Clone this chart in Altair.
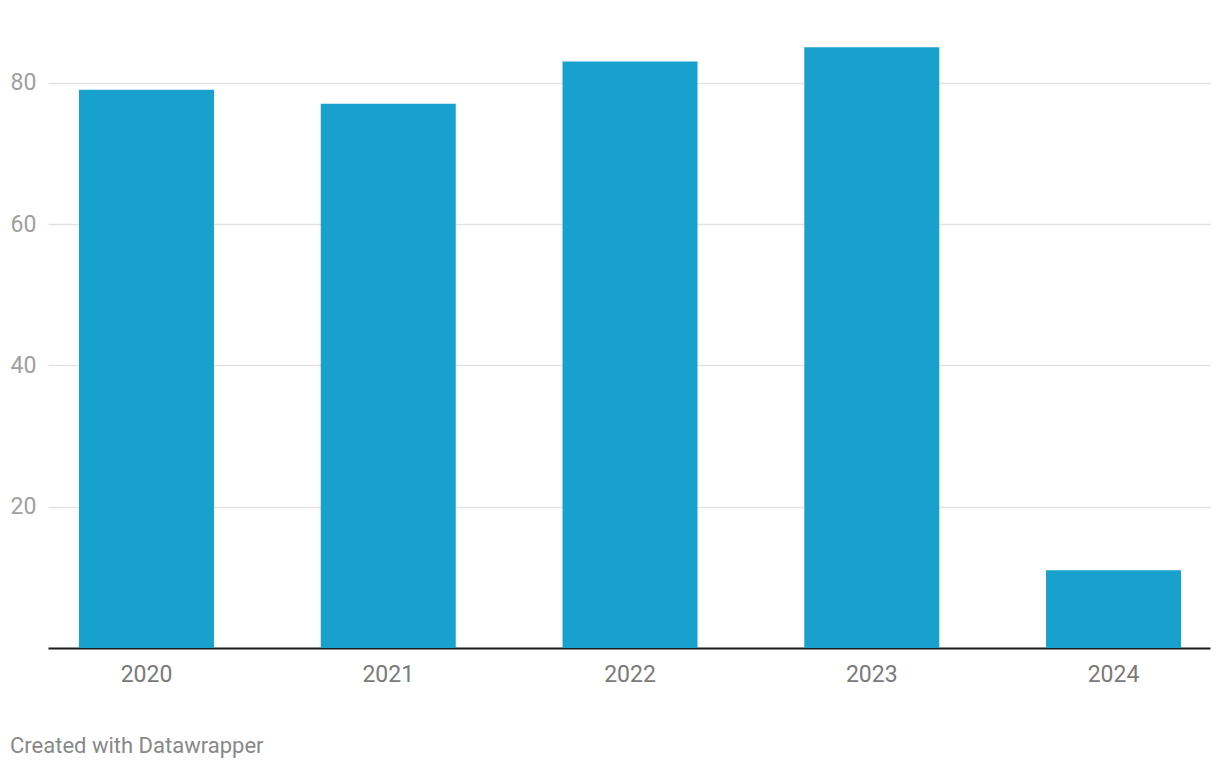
import altair as alt
import pandas as pd

years = ["2020", "2021", "2022", "2023", "2024"]
values = [79, 77, 83, 85, 11]
y_ticks = [20, 40, 60, 80]

df = pd.DataFrame({"year": years, "value": values})

chart = (
    alt.Chart(df)
    .mark_bar(color="#18a1cd")
    .encode(
        x=alt.X(
            "year:N",
            sort=years,
            title=None,
            scale=alt.Scale(paddingInner=0.4416, paddingOuter=0.124, align=0.517),
            axis=alt.Axis(
                labelAngle=0,
                ticks=False,
                domainColor="#1d1d1d",
                domainWidth=2,
                labelFont="Roboto",
                labelFontSize=23,
                labelColor="#7a7a7a",
                labelPadding=15,
                grid=False,
            ),
        ),
        y=alt.Y(
            "value:Q",
            title=None,
            scale=alt.Scale(domain=[0, 90], nice=False),
            axis=alt.Axis(
                values=y_ticks,
                ticks=False,
                domain=False,
                grid=True,
                gridColor="#e3e3e3",
                gridWidth=1.5,
                labelFont="Roboto",
                labelFontSize=23,
                labelColor="#a0a0a0",
                labelAlign="left",
                labelBaseline="middle",
                labelPadding=38,
            ),
        ),
    )
    .properties(
        width=1162,
        height=636,
        autosize=alt.AutoSizeParams(type="none"),
        padding={"left": 40, "top": 4, "right": 2, "bottom": 110},
        title=alt.TitleParams(
            "Created with Datawrapper",
            orient="bottom",
            anchor="start",
            frame="group",
            dx=-38,
            offset=50,
            font="Roboto",
            fontSize=22,
            fontWeight="normal",
            color="#888888",
        ),
    )
    .configure_view(stroke=None)
)

chart.save("out.html", embed_options={"renderer": "svg", "actions": False})
